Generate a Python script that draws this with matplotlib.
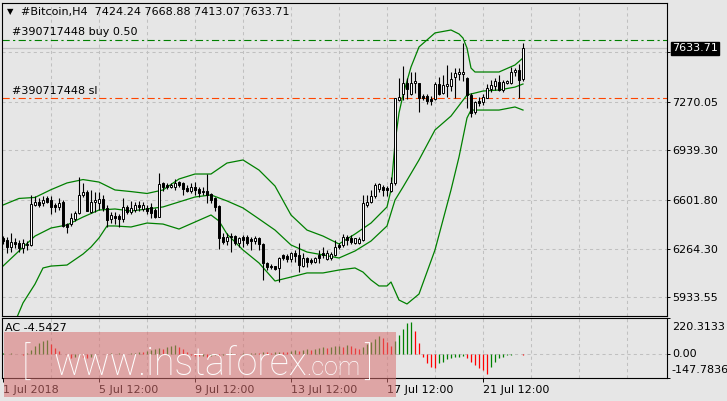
import matplotlib
matplotlib.use('Agg')
import matplotlib.pyplot as plt
from matplotlib.patches import Rectangle

# H4 candles, 1 Jul - 23 Jul 2018
opens = [6340, 6325, 6277, 6313, 6306, 6268, 6290, 6290, 6563, 6585,
         6575, 6610, 6600, 6563, 6553, 6585, 6435, 6434, 6470, 6507,
         6632, 6655, 6518, 6587, 6580, 6603, 6541, 6466, 6490, 6490,
         6466, 6553, 6518, 6530, 6563, 6535, 6541, 6553, 6530, 6484,
         6712, 6700, 6690, 6685, 6718, 6712, 6682, 6662, 6690, 6672,
         6660, 6662, 6640, 6610, 6557, 6343, 6320, 6355, 6352, 6306,
         6343, 6343, 6330, 6320, 6336, 6297, 6165, 6150, 6148, 6132,
         6222, 6215, 6193, 6238, 6222, 6148, 6200, 6190, 6177, 6222,
         6234, 6193, 6200, 6222, 6290, 6290, 6347, 6336, 6306, 6306,
         6325, 6563, 6587, 6625, 6672, 6685, 6680, 6662, 6712, 7280,
         7323, 7395, 7320, 7395, 7400, 7310, 7310, 7290, 7287, 7390,
         7327, 7376, 7376, 7440, 7460, 7460, 7430, 7315, 7198, 7275,
         7265, 7298, 7356, 7376, 7403, 7350, 7395, 7397, 7470, 7490,
         7424.24]
highs = [6350, 6347, 6370, 6336, 6325, 6330, 6320, 6630, 6625, 6610,
         6625, 6625, 6625, 6575, 6610, 6598, 6440, 6512, 6525, 6753,
         6716, 6665, 6666, 6655, 6655, 6630, 6563, 6518, 6518, 6502,
         6610, 6565, 6593, 6587, 6593, 6587, 6563, 6575, 6541, 6785,
         6723, 6712, 6712, 6740, 6730, 6723, 6700, 6712, 6720, 6685,
         6690, 6775, 6648, 6620, 6563, 6370, 6370, 6370, 6360, 6347,
         6360, 6360, 6343, 6350, 6343, 6302, 6177, 6160, 6150, 6210,
         6230, 6230, 6245, 6257, 6302, 6234, 6210, 6205, 6210, 6257,
         6280, 6257, 6245, 6325, 6302, 6366, 6360, 6360, 6340, 6343,
         6632, 6632, 6667, 6716, 6716, 6700, 6695, 6757, 7295, 7430,
         7513, 7430, 7475, 7475, 7400, 7320, 7320, 7310, 7407, 7440,
         7452, 7520, 7475, 7497, 7497, 7670, 7440, 7327, 7275, 7300,
         7320, 7390, 7415, 7430, 7452, 7420, 7420, 7510, 7500, 7525,
         7668.88]
lows = [6300, 6234, 6245, 6268, 6245, 6234, 6260, 6285, 6556, 6550,
        6560, 6575, 6500, 6518, 6530, 6413, 6375, 6420, 6457, 6500,
        6622, 6520, 6512, 6518, 6533, 6520, 6412, 6440, 6433, 6412,
        6450, 6502, 6502, 6518, 6525, 6520, 6502, 6478, 6478, 6480,
        6662, 6672, 6680, 6670, 6690, 6632, 6650, 6648, 6632, 6620,
        6630, 6580, 6580, 6525, 6262, 6300, 6290, 6245, 6290, 6280,
        6280, 6290, 6255, 6300, 6255, 6052, 6120, 6125, 6120, 6040,
        6190, 6177, 6177, 6177, 6108, 6143, 6143, 6160, 6165, 6170,
        6200, 6186, 6186, 6215, 6262, 6280, 6290, 6300, 6300, 6300,
        6320, 6553, 6575, 6610, 6655, 6625, 6625, 6655, 6700, 7278,
        7280, 7290, 7315, 7330, 7203, 7280, 7255, 7250, 7282, 7315,
        7320, 7303, 7340, 7298, 7415, 7410, 7225, 7167, 7185, 7240,
        7250, 7296, 7336, 7350, 7343, 7336, 7390, 7390, 7445, 7293,
        7413.07]
closes = [6320, 6277, 6313, 6297, 6268, 6302, 6300, 6570, 6585, 6563,
          6600, 6585, 6550, 6553, 6580, 6420, 6415, 6473, 6512, 6632,
          6655, 6525, 6587, 6600, 6603, 6541, 6462, 6496, 6475, 6466,
          6548, 6518, 6541, 6563, 6553, 6563, 6525, 6512, 6484, 6707,
          6685, 6685, 6700, 6712, 6702, 6672, 6662, 6685, 6667, 6648,
          6650, 6632, 6598, 6553, 6337, 6313, 6347, 6343, 6306, 6336,
          6325, 6306, 6320, 6336, 6297, 6165, 6138, 6138, 6130, 6200,
          6200, 6193, 6238, 6216, 6155, 6200, 6177, 6177, 6200, 6200,
          6222, 6234, 6230, 6275, 6275, 6343, 6325, 6313, 6336, 6330,
          6575, 6587, 6625, 6700, 6707, 6667, 6667, 6712, 7293, 7303,
          7395, 7360, 7400, 7410, 7293, 7293, 7278, 7278, 7390, 7320,
          7383, 7388, 7425, 7467, 7470, 7470, 7315, 7190, 7270, 7260,
          7305, 7363, 7383, 7410, 7350, 7403, 7410, 7475, 7490, 7420,
          7633.71]

# Bollinger bands (20, 2) read at a set of bars
upper_idx = [0, 4, 8, 12, 16, 20, 24, 28, 32, 36, 40, 44, 48, 52, 56, 60, 64,
             68, 72, 76, 80, 84, 88, 92, 96, 97, 98, 99, 100, 102, 104, 108,
             112, 114, 115, 116, 117, 118, 120, 124, 128, 130]
upper = [6564, 6609, 6616, 6669, 6715, 6738, 6721, 6667, 6656, 6643, 6667,
         6742, 6776, 6776, 6851, 6872, 6803, 6694, 6496, 6393, 6352, 6298,
         6366, 6441, 6551, 6667, 6988, 7193, 7316, 7507, 7644, 7740, 7760,
         7733, 7705, 7637, 7500, 7473, 7473, 7473, 7521, 7569]
mid_idx = [0, 4, 8, 12, 16, 20, 24, 28, 32, 36, 40, 44, 48, 52, 56, 60, 64,
           68, 72, 76, 80, 84, 88, 92, 96, 98, 100, 104, 108, 112, 116, 120,
           124, 128, 130]
middle = [6147, 6250, 6352, 6407, 6428, 6482, 6530, 6537, 6523, 6537, 6551,
          6585, 6619, 6633, 6592, 6544, 6469, 6393, 6291, 6243, 6223, 6202,
          6250, 6318, 6421, 6598, 6687, 6872, 7077, 7172, 7316, 7343, 7350,
          7370, 7391]
lower_idx = [0, 3, 5, 8, 10, 12, 16, 20, 22, 24, 26, 28, 32, 36, 40, 44, 48,
             52, 54, 56, 60, 64, 68, 72, 76, 80, 84, 88, 90, 92, 94, 96, 97,
             99, 101, 104, 108, 112, 114, 116, 117, 120, 124, 128, 130]
lower = [5710, 5765, 5895, 6024, 6134, 6147, 6154, 6229, 6277, 6339, 6421,
         6421, 6414, 6441, 6434, 6400, 6448, 6496, 6455, 6366, 6257, 6168,
         6045, 6072, 6100, 6100, 6120, 6134, 6106, 6052, 6011, 6011, 6038,
         5915, 5888, 5956, 6257, 6667, 6892, 7159, 7213, 7213, 7213, 7234,
         7213]

# Accelerator oscillator, one value per bar
ac = [3, -2, 4, -3, 2, -4, 3,
      25, 46, 67, 77, 83,
      60, 38, 18, -3, -18, -28, -22, -14, -20, -27, -16,
      -8, -3, 2, -4, 3, -2, 4, -3, 2, 5,
      8, 12, 10, 18, 25, 30, 36, 32, 44, 50, 56,
      42, 28, 12,
      -4, -10, -15, -12, -18, -14, -8, -12, -6, -2, 4, -3, 2, 5, -2, 4, 8, 6,
      12, 10, 5, 9, 14, 12,
      12, 18, 22, 20, 26, 30, 25, 32, 36, 40, 35, 42, 46, 50, 44, 56,
      46, 38, 32, 45, 60, 75, 90, 108, 95, 75, 50, 80, 115, 154, 187, 195,
      139, 67, -17, -58, -79, -89,
      -58, -48, -33, -27, -21, -17, -12,
      -27, -48, -69, -89, -100, -121,
      -79, -48, -27, -17,
      -8, -5, -3, -2, -4.5427]

price_ticks = [5933.55, 6264.30, 6601.80, 6939.30, 7270.05, 7607.55]
ac_ticks = [-147.7836, 0.0, 220.3133]
date_idx = [0, 24, 48, 72, 96, 120]
date_labels = ['1 Jul 2018', '5 Jul 12:00', '9 Jul 12:00', '13 Jul 12:00',
               '17 Jul 12:00', '21 Jul 12:00']
buy_price = 7695
sl_price = 7295

W, H = 727, 401
BG = '#E6E6E6'
GRID = '#C0C0C0'
GREEN = '#008000'
RED = '#FF0000'
ORANGE = '#FF4500'

plt.rcParams['font.family'] = ['DejaVu Sans']
plt.rcParams['font.size'] = 8


def fx(px):
    return px / W


def fy(py):
    return 1 - py / H


fig = plt.figure(figsize=(W / 100, H / 100), dpi=100, facecolor=BG)
ax = fig.add_axes([fx(2), fy(316), fx(667) - fx(2), fy(3) - fy(316)])
ac_ax = fig.add_axes([fx(2), fy(378), fx(667) - fx(2), fy(318) - fy(378)])

n = len(closes)
idx = list(range(n))

for a in (ax, ac_ax):
    a.set_facecolor(BG)
    a.set_xlim(-0.25, 166)
    for s in a.spines.values():
        s.set_color('black')
        s.set_linewidth(0.8)
    for k in range(12, 166, 12):
        a.axvline(k, color=GRID, lw=0.75, ls=(0, (3, 3)), zorder=0)

# main price panel
ax.set_ylim(5805.8, 7944.5)
for p in price_ticks:
    ax.axhline(p, color=GRID, lw=0.75, ls=(0, (3, 3)), zorder=0)
ax.axhline(closes[-1], color='#C0C0C0', lw=0.9, zorder=1)
ax.axhline(buy_price, color=GREEN, lw=0.8, ls=(0, (6.5, 3, 2, 3)), zorder=1)
ax.axhline(sl_price, color=ORANGE, lw=0.8, ls=(0, (6.5, 3, 2, 3)), zorder=1)

ax.vlines(idx, lows, highs, color='black', lw=0.8, zorder=3)
bottoms = [min(o, c) for o, c in zip(opens, closes)]
heights = [abs(c - o) for o, c in zip(opens, closes)]
colors = ['white' if c >= o else 'black' for o, c in zip(opens, closes)]
ax.bar(idx, heights, bottom=bottoms, width=0.55, color=colors,
       edgecolor='black', linewidth=0.7, zorder=4)

ax.plot(upper_idx, upper, color=GREEN, lw=0.9, zorder=2)
ax.plot(mid_idx, middle, color=GREEN, lw=0.9, zorder=2)
ax.plot(lower_idx, lower, color=GREEN, lw=0.9, zorder=2)

ax.yaxis.tick_right()
ax.set_yticks(price_ticks)
ax.set_yticklabels(['%.2f' % p for p in price_ticks])
ax.tick_params(axis='y', length=2.5, width=0.7, pad=1.5, labelsize=8)
ax.tick_params(axis='x', bottom=False, labelbottom=False)
ax.annotate('%.2f' % closes[-1], xy=(1, closes[-1]),
            xycoords=('axes fraction', 'data'), xytext=(3.5, 0),
            textcoords='offset points', ha='left', va='center',
            color='white', fontsize=8, zorder=10, annotation_clip=False,
            bbox=dict(boxstyle='square,pad=0.12', fc='black', ec='black'))

fig.text(fx(7), fy(12), '\u25bc', ha='left', va='center', fontsize=6)
title = '#Bitcoin,H4  %.2f %.2f %.2f %.2f' % (opens[-1], highs[-1],
                                              lows[-1], closes[-1])
fig.text(fx(21), fy(12), title, ha='left', va='center', fontsize=8)
fig.text(fx(12), fy(32), '#390717448 buy 0.50', ha='left', va='center',
         fontsize=8)
fig.text(fx(12), fy(91), '#390717448 sl', ha='left', va='center',
         fontsize=8)

# AC panel
ac_ax.set_ylim(ac_ticks[0], ac_ticks[-1])
ac_ax.axhline(0, color=GRID, lw=0.75, ls=(0, (3, 3)), zorder=0)
ac_colors = [GREEN] + [GREEN if ac[i] > ac[i - 1] else RED
                       for i in range(1, n)]
ac_ax.vlines(idx, 0, ac, colors=ac_colors, lw=0.9, zorder=2)
ac_ax.yaxis.tick_right()
ac_ax.set_yticks(ac_ticks)
ac_ax.set_yticklabels([])
ac_ax.tick_params(axis='y', length=2.5, width=0.7)
for v, dy in [(ac_ticks[2], -9), (ac_ticks[1], 0), (ac_ticks[0], 8)]:
    ac_ax.annotate(('%.4f' % v) if v != 0 else '0.00', xy=(1, v),
                   xycoords=('axes fraction', 'data'), xytext=(3.5, dy * 0.72),
                   textcoords='offset points', ha='left', va='center',
                   fontsize=8, annotation_clip=False)
fig.text(fx(5), fy(328), 'AC %.4f' % ac[-1], ha='left', va='center',
         fontsize=8)

ac_ax.set_xticks(date_idx)
ac_ax.set_xticklabels(date_labels, ha='left')
ac_ax.tick_params(axis='x', length=3, width=0.7, pad=2, labelsize=8)

# watermark
fig.patches.append(Rectangle((fx(4), fy(397)), fx(396) - fx(4), fy(332) - fy(397),
                             transform=fig.transFigure, facecolor='#D87070',
                             alpha=0.55, edgecolor='none', zorder=20))
wm = dict(color='white', va='baseline', ha='left', zorder=21,
          family=['Roboto', 'Liberation Sans', 'DejaVu Sans'],
          fontweight='light')
fig.text(fx(22), fy(375), '[', fontsize=27, **wm)
fig.text(fx(53), fy(375), 'www.instaforex', fontsize=27, **wm)
fig.text(fx(306), fy(375), '.com', fontsize=18, **wm)
fig.text(fx(364), fy(375), ']', fontsize=27, **wm)

fig.savefig('out.png', dpi=100, facecolor=BG)
